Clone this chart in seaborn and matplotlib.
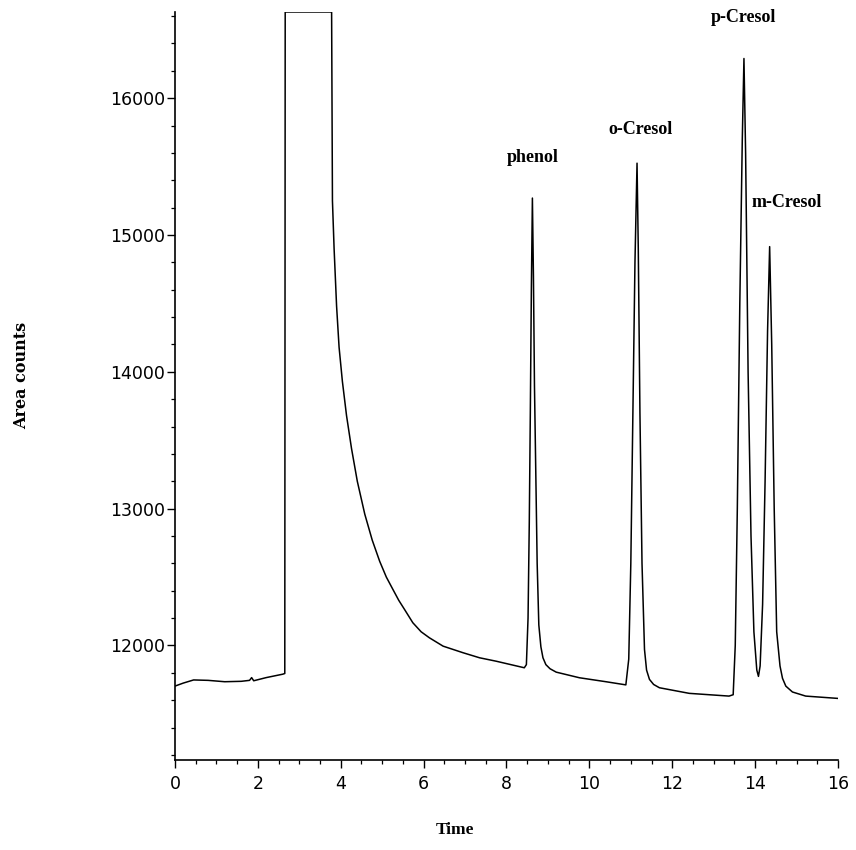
import matplotlib
matplotlib.use("Agg")
import matplotlib.pyplot as plt
from matplotlib.ticker import MultipleLocator
import seaborn as sns
import pandas as pd

# Chromatogram trace: retention time (min) and detector area counts
time_min = [
    0.00, 0.20, 0.45, 0.80, 1.20, 1.60, 1.80, 1.85, 1.90, 2.20, 2.60, 2.65,
    2.66, 3.78, 3.80, 3.84, 3.90, 3.96, 4.04, 4.14, 4.26, 4.40, 4.58, 4.76,
    4.94, 5.10, 5.26, 5.40, 5.54, 5.74, 5.94, 6.14, 6.47, 6.95, 7.35, 7.75,
    8.43,
    8.48, 8.52, 8.55, 8.575, 8.60, 8.625, 8.65, 8.675, 8.70, 8.74, 8.78,
    8.83, 8.88, 8.95, 9.05, 9.20, 9.76, 10.40, 10.88,
    10.95, 11.00, 11.05, 11.10, 11.15, 11.18, 11.22, 11.27, 11.33, 11.38,
    11.45, 11.55, 11.69, 12.41, 13.37, 13.47,
    13.52, 13.57, 13.63, 13.69, 13.73, 13.77, 13.83, 13.90, 13.97, 14.04,
    14.08, 14.12, 14.18, 14.24, 14.30, 14.35, 14.40, 14.46, 14.52, 14.60,
    14.66, 14.74, 14.90, 15.22, 16.00,
]
area_counts = [
    11703, 11725, 11748, 11745, 11735, 11738, 11745, 11765, 11742, 11765, 11790, 11795,
    16630, 16630, 15250, 14900, 14480, 14180, 13930, 13680, 13440, 13200, 12960, 12770,
    12615, 12500, 12409, 12330, 12263, 12166, 12100, 12056, 11995, 11947, 11910, 11885,
    11837,
    11860, 12200, 12900, 13700, 14600, 15270, 14700, 13900, 13400, 12600, 12150,
    11990, 11910, 11860, 11830, 11805, 11764, 11735, 11712,
    11900, 12600, 13700, 14800, 15525, 14900, 13700, 12600, 11971, 11820,
    11752, 11715, 11691, 11650, 11630, 11640,
    12000, 13000, 14500, 15700, 16290, 15600, 14000, 12800, 12100, 11820,
    11774, 11850, 12300, 13200, 14300, 14915, 14200, 13000, 12100, 11850,
    11760, 11703, 11660, 11630, 11613,
]

# Peak annotations
peak_names = ["phenol", "o-Cresol", "p-Cresol", "m-Cresol"]
label_x = [8.63, 11.23, 13.73, 14.77]
label_y = [15570, 15774, 16590, 15241]

df = pd.DataFrame({"Time": time_min, "Area counts": area_counts})

sns.set_style("ticks")
fig = plt.figure(figsize=(8.56, 8.50), dpi=100)
ax = fig.add_axes([0.2044, 0.1059, 0.7746, 0.8800])

sns.lineplot(data=df, x="Time", y="Area counts", ax=ax, color="black",
             linewidth=1.1, estimator=None, sort=False)

ax.set_xlim(0, 16)
ax.set_ylim(11163, 16630)
ax.xaxis.set_major_locator(MultipleLocator(2))
ax.xaxis.set_minor_locator(MultipleLocator(0.5))
ax.yaxis.set_major_locator(MultipleLocator(1000))
ax.yaxis.set_minor_locator(MultipleLocator(200))
ax.set_yticks([12000, 13000, 14000, 15000, 16000])

for side in ("top", "right"):
    ax.spines[side].set_visible(False)
for side in ("left", "bottom"):
    ax.spines[side].set_linewidth(1.2)
    ax.spines[side].set_color("black")

ax.tick_params(axis="both", which="major", length=6, width=1.0, color="black",
               labelsize=12.5, labelcolor="black", direction="out")
ax.tick_params(axis="both", which="minor", length=3, width=0.9, color="black",
               direction="out")
ax.tick_params(axis="y", which="major", pad=1)
ax.tick_params(axis="x", which="major", pad=5)
for lbl in ax.get_xticklabels() + ax.get_yticklabels():
    lbl.set_family("DejaVu Sans")

ax.set_xlabel("")
ax.set_ylabel("")
fig.text(455 / 856, 1 - 830 / 850, "Time", ha="center", va="center",
         family="Liberation Serif", fontweight="bold", fontsize=12.5,
         color="black")
fig.text(22 / 856, 1 - 375 / 850, "Area counts", ha="center", va="center",
         rotation=90, family="DejaVu Serif", fontweight="bold", fontsize=11.5,
         color="black")

for name, lx, ly in zip(peak_names, label_x, label_y):
    ax.text(lx, ly, name, ha="center", va="center", family="Liberation Serif",
            fontweight="bold", fontsize=13, color="black", clip_on=False)

fig.savefig("out.png", dpi=100)
